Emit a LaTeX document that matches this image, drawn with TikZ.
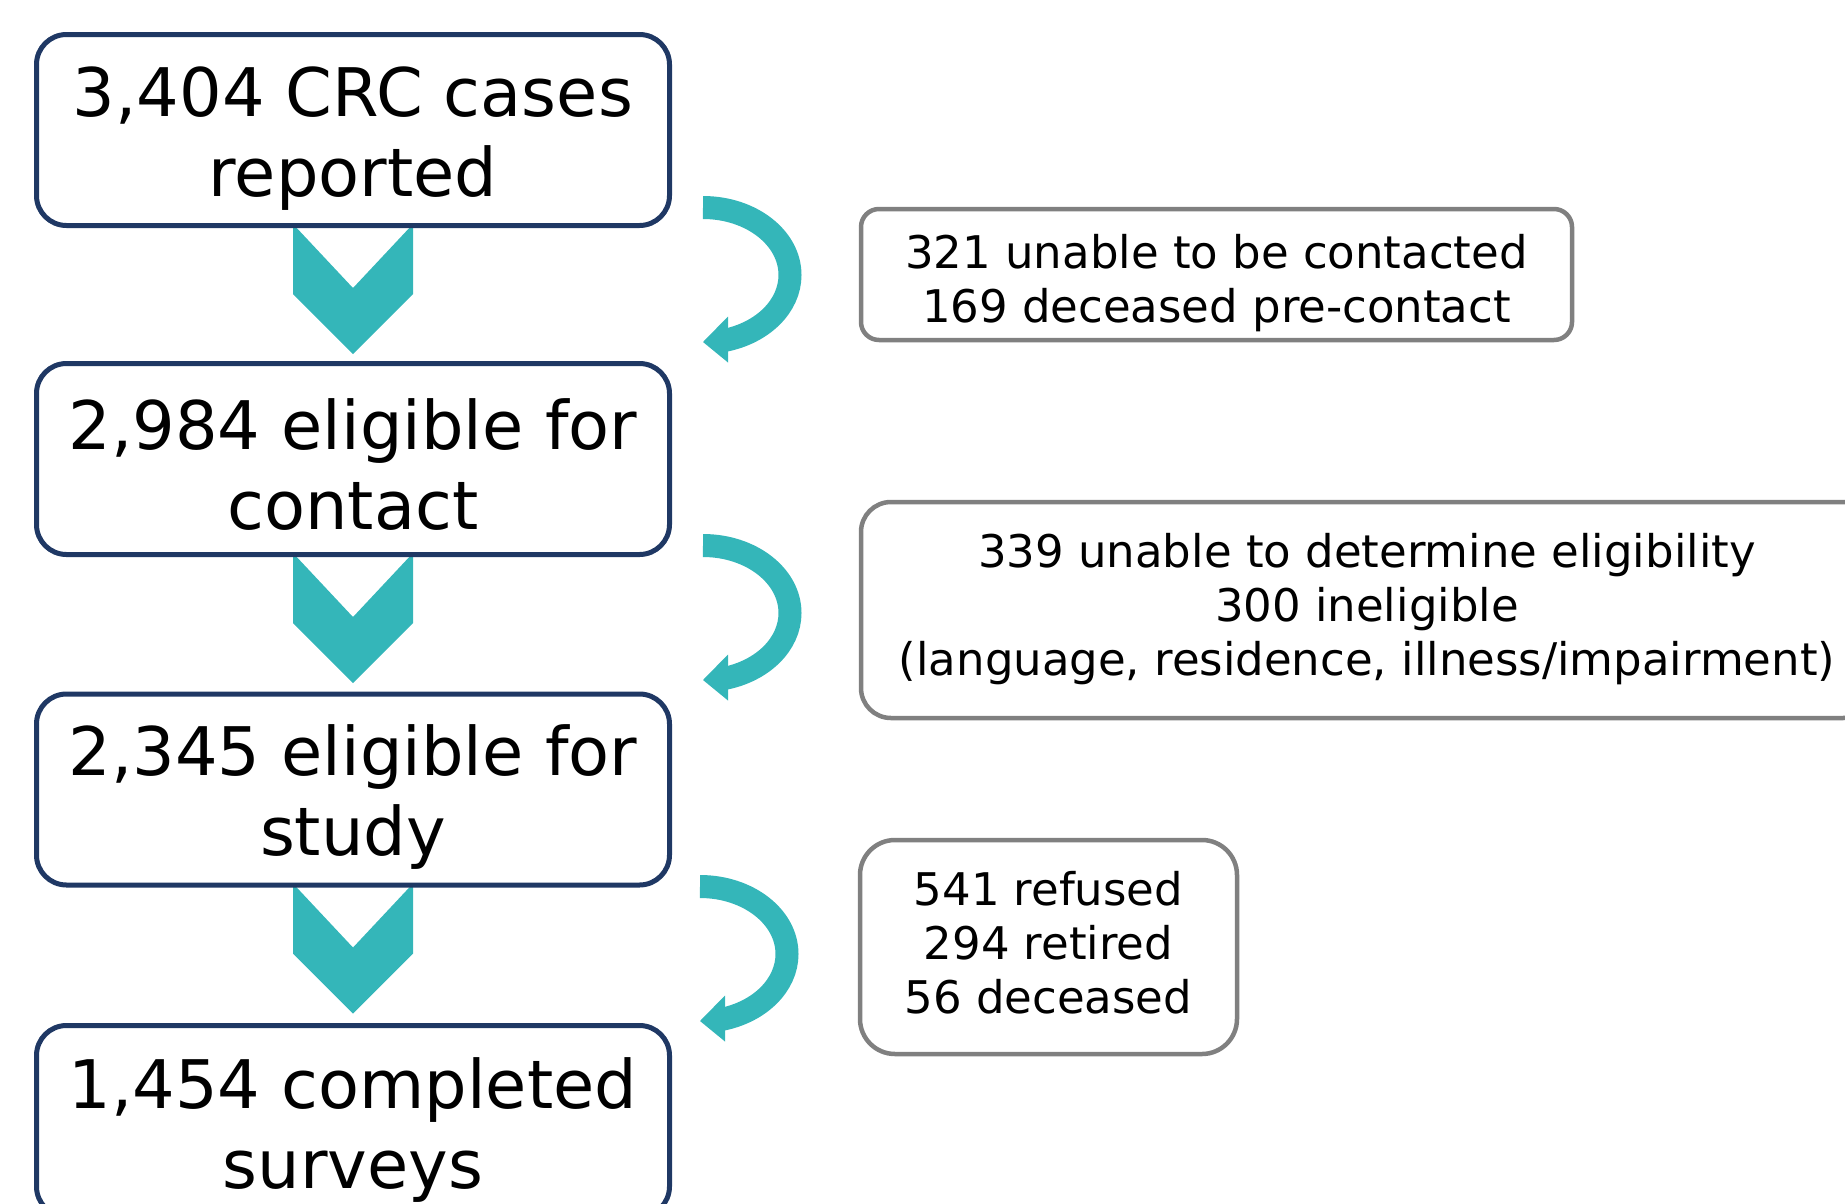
\documentclass[tikz,border=0pt]{standalone}
\usepackage{fontspec}
\setmainfont{DejaVu Sans}
\usetikzlibrary{calc,backgrounds}
\definecolor{navy}{HTML}{1F3864}
\definecolor{tealc}{HTML}{34B6B9}
\definecolor{grayb}{HTML}{808080}
\tikzset{
  mainbox/.style={draw=navy, line width=5pt, rounded corners=30pt, fill=white,
    minimum width=633pt, minimum height=191pt, inner sep=0pt},
  maintext/.style={inner sep=0pt, align=center, font=\fontsize{67}{80}\selectfont},
  sidebox/.style={draw=grayb, line width=4.5pt, fill=white, inner sep=0pt},
  sidetext/.style={inner sep=0pt, align=center, font=\fontsize{45}{54}\selectfont},
  chev/.style={fill=tealc},
  curvarrow/.pic={
    \draw[tealc, line width=23pt] (0,0) arc[start angle=-90, end angle=76, x radius=87, y radius=67.5];
    \fill[tealc] (0,134.5) -- (25,109) -- (25,155) -- cycle;
  }
}
\begin{document}
\begin{tikzpicture}[x=1pt,y=-1pt]
\useasboundingbox (0,0) rectangle (1845,1203);
\clip (0,0) rectangle (1845,1203);

% main boxes
\node[mainbox] (b1) at (353,130) {};
\node[mainbox] (b2) at (353,459) {};
\node[mainbox] (b3) at (353,789.5) {};
\node[mainbox] (b4) at (353,1121) {};
\node[maintext] (t1) at ($(b1)+(0,9)$) {3,404 CRC cases\\reported};
\node[maintext] (t2) at ($(b2)+(0,6)$) {2,984 eligible for\\contact};
\node[maintext] (t3) at ($(b3)+(0,8)$) {2,345 eligible for\\study};
\node[maintext] (t4) at ($(b4)+(0,9)$) {1,454 completed\\surveys};

% chevrons
\begin{scope}[on background layer]
\foreach \b in {b1,b2,b3}{
  \fill[chev] ($(\b.south)+(-60,-4)$) -- ++(60,64) -- ++(60,-64) -- ++(0,70) -- ++(-60,60) -- ++(-60,-60) -- cycle;
}
\end{scope}

% side boxes
\node[sidebox, rounded corners=18pt, minimum width=711pt, minimum height=131pt] (s1) at (1216.5,274.5) {};
\node[sidebox, rounded corners=30pt, minimum width=1012pt, minimum height=216pt] (s2) at (1367,610) {};
\node[sidebox, rounded corners=35pt, minimum width=377pt, minimum height=214pt] (s3) at (1048.5,947) {};
\node[sidetext] (u1) at ($(s1)+(0,9)$) {321 unable to be contacted\\169 deceased pre-contact};
\node[sidetext] (u2) at ($(s2)+(0,-1)$) {339 unable to determine eligibility\\300 ineligible\\(language, residence, illness/impairment)};
\node[sidetext] (u3) at ($(s3)+(0,-4)$) {541 refused\\294 retired\\56 deceased};

% curved arrows
\coordinate (a1) at (703,207.5);
\coordinate (a2) at (703,545.5);
\coordinate (a3) at (700,886.5);
\pic at (a1) {curvarrow};
\pic at (a2) {curvarrow};
\pic at (a3) {curvarrow};
\end{tikzpicture}
\end{document}
